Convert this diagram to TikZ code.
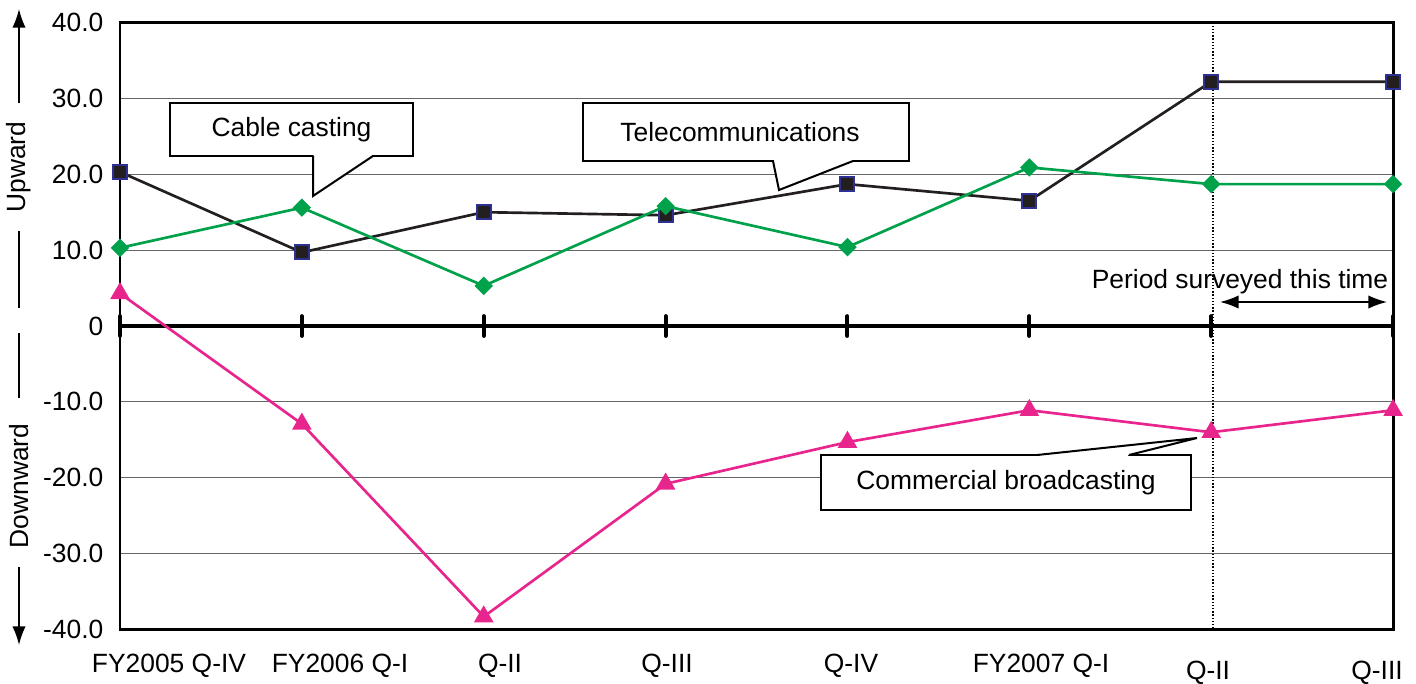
\documentclass[tikz,border=0pt]{standalone}
\usepackage{fontspec}
\setmainfont{Liberation Sans}
\usetikzlibrary{arrows.meta,calc,shapes.geometric}

\definecolor{telfill}{RGB}{35,31,32}
\definecolor{telblue}{RGB}{46,49,146}
\definecolor{cablegreen}{RGB}{0,161,75}
\definecolor{bcpink}{RGB}{232,37,140}

\tikzstyle{txt} = [font=\fontsize{19.8}{23}\selectfont, inner sep=0pt]
\tikzstyle{callout} = [rectangle, draw, fill=white, line width=1.5pt, txt]
\tikzstyle{gridline} = [draw=black!60, line width=0.75pt]
\tikzstyle{frame} = [draw, line width=2.2pt]
\tikzstyle{series} = [draw, line width=2pt, line join=round]
\tikzstyle{telmark} = [rectangle, draw=telblue, fill=telfill, line width=1.5pt,
    minimum size=10.5pt, inner sep=0pt]
\tikzstyle{cabmark} = [diamond, fill=cablegreen, minimum size=14pt, inner sep=0pt]
\tikzstyle{commark} = [regular polygon, regular polygon sides=3, fill=bcpink,
    minimum size=17pt, inner sep=0pt]
\tikzstyle{dirline} = [draw, line width=1.2pt]
\tikzstyle{dirarrow} = [dirline, -{Latex[length=14pt,width=10pt]}]

\begin{document}
\begin{tikzpicture}[x=0.75pt,y=-0.75pt]
    \useasboundingbox (0,0) rectangle (1416,683);
    % Chart area (data units)
    \begin{scope}[shift={(90pt,-244.5pt)},x=136.4pt,y=5.691pt]
        \foreach \v in {-30,-20,-10,10,20,30}
            \path[gridline] (0,\v) -- (7,\v);
        \draw[line width=0.9pt, dash pattern=on 1pt off 1.4pt] (6.01,40) -- (6.01,-40);
        \draw[frame] (0,40) rectangle (7,-40);
        \draw[line width=3.5pt] (0,0) -- (7,0);
        \foreach \i in {0,...,7}
            \draw[line width=3pt, line cap=round] (\i,-1.3) -- (\i,1.3);
        \foreach \v/\t [count=\i] in {40/40.0,30/30.0,20/20.0,10/10.0,0/0,
                -10/-10.0,-20/-20.0,-30/-30.0,-40/-40.0}
            \node[txt, anchor=east] (ytick\i) at (-0.09,\v) {\t};
        % Place data points
        \foreach \y [count=\i from 0] in {20.3,9.7,15.0,14.6,18.7,16.5,32.2,32.2}
            \coordinate (tel\i) at (\i,\y);
        \foreach \y [count=\i from 0] in {10.3,15.6,5.3,15.8,10.4,20.9,18.7,18.7}
            \coordinate (cab\i) at (\i,\y);
        \foreach \y [count=\i from 0] in {4.3,-12.9,-38.3,-20.8,-15.3,-11.1,-14.0,-11.1}
            \coordinate (com\i) at (\i,\y);
        % Draw series
        \draw[series, telfill] (tel0) \foreach \i in {1,...,7} {-- (tel\i)};
        \foreach \i in {0,...,7}
            \node[telmark] (telm\i) at (tel\i) {};
        \draw[series, cablegreen] (cab0) \foreach \i in {1,...,7} {-- (cab\i)};
        \foreach \i in {0,...,7}
            \node[cabmark] (cabm\i) at (cab\i) {};
        \draw[series, bcpink] (com0) \foreach \i in {1,...,7} {-- (com\i)};
        \foreach \i in {0,...,7}
            \node[commark] (comm\i) at (com\i) {};
    \end{scope}
    % Axis direction labels
    \node[txt, rotate=90] (upward) at (19,167) {Upward};
    \node[txt, rotate=90] (downward) at (19,486) {Downward};
    \coordinate (up tip) at (19,9);
    \coordinate (down tip) at (19,645);
    \path[dirarrow] ($(upward.east)+(0,-18)$) -- (up tip);
    \path[dirline] ($(upward.west)+(0,18)$) -- (19,308);
    \path[dirline] (19,333) -- ($(downward.east)+(0,-25)$);
    \path[dirarrow] ($(downward.west)+(0,18)$) -- (down tip);
    % Category labels
    \foreach \x/\y/\t [count=\i from 0] in {169/666/FY2005 Q-IV, 340/666/FY2006 Q-I,
            500/666/Q-II, 667/666/Q-III, 851/666/Q-IV, 1041/666/FY2007 Q-I,
            1208/673/Q-II, 1377/673/Q-III}
        \node[txt] (xl\i) at (\x,\y) {\t};
    % Period surveyed
    \node[txt] (period) at (1240,282) {Period surveyed this time};
    \coordinate (period start) at (1220,302);
    \coordinate (period end) at (1387,302);
    \path[dirline, {Latex[length=14pt,width=10pt]}-{Latex[length=14pt,width=10pt]}]
        (period start) -- (period end);
    % Callouts
    \node[callout, minimum width=182pt, minimum height=39.75pt] (cable) at (291.5,129.5) {Cable casting};
    \coordinate (cable tip) at (313,196);
    \fill[white] (313.5,152) -- (313.5,156) -- (cable tip) -- (372,156) -- (372,152) -- cycle;
    \draw[line width=1.5pt, line join=miter] (313,156) -- (cable tip) -- (373,156);

    \node[callout, minimum width=244.5pt, minimum height=43.5pt] (telecom) at (746,132) {\hspace*{-9pt}Telecommunications};
    \coordinate (telecom tip) at (779,190);
    \fill[white] (774,157) -- (774,161) -- (telecom tip) -- (852,161) -- (852,157) -- cycle;
    \draw[line width=1.5pt] (773,161) -- (telecom tip) -- (853,161);

    \node[callout, minimum width=277.5pt, minimum height=41.25pt] (commercial) at (1006,482.5) {Commercial broadcasting};
    \coordinate (commercial tip) at (1197,438);
    \fill[white] (1038,459) -- (1038,455) -- (commercial tip) -- (1128,455) -- (1128,459) -- cycle;
    \draw[line width=1.5pt] (1037,455) -- (commercial tip) -- (1129,455);
\end{tikzpicture}
\end{document}
